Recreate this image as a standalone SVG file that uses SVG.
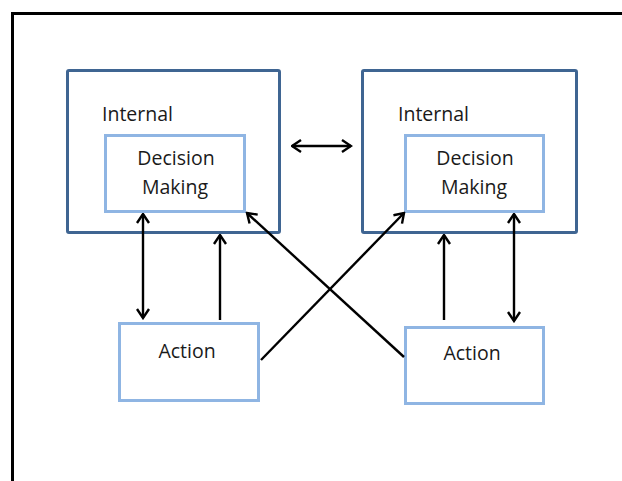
<svg xmlns="http://www.w3.org/2000/svg" width="622" height="481" viewBox="0 0 622 481">
<defs>
<marker id="ah" viewBox="0 0 12 14" refX="10.5" refY="7" markerWidth="12" markerHeight="14" markerUnits="userSpaceOnUse" orient="auto-start-reverse">
<path d="M1.5,1 L10.5,7 L1.5,13" fill="none" stroke="#000" stroke-width="2.4"/>
</marker>
</defs>
<style>
.outer{fill:#fff;stroke:#3f6592;stroke-width:3}
.inner{fill:#fff;stroke:#8fb5e3;stroke-width:3}
.t{font-family:"Open Sans","DejaVu Sans",sans-serif;font-size:19.5px;fill:#1a1a1a}
.c{stroke:#000;stroke-width:2.4;fill:none}
</style>
<rect width="622" height="481" fill="#fff"/>
<g id="frame">
<path d="M12.5,481 V13.5 H622" fill="none" stroke="#000" stroke-width="3"/>
</g>
<g id="internal-left">
<rect class="outer" x="67.5" y="70.5" width="212" height="162" rx="1.5"/>
<text class="t" x="102" y="121">Internal</text>
</g>
<g id="decision-left">
<rect class="inner" x="105.5" y="135.5" width="139" height="76"/>
<text class="t" x="176" y="165" text-anchor="middle">Decision</text>
<text class="t" x="175" y="194" text-anchor="middle">Making</text>
</g>
<g id="internal-right">
<rect class="outer" x="362.5" y="70.5" width="214" height="162" rx="1.5"/>
<text class="t" x="398" y="121">Internal</text>
</g>
<g id="decision-right">
<rect class="inner" x="405.5" y="135.5" width="138" height="76"/>
<text class="t" x="475" y="165" text-anchor="middle">Decision</text>
<text class="t" x="474" y="194" text-anchor="middle">Making</text>
</g>
<g id="action-left">
<rect class="inner" x="119.5" y="323.5" width="139" height="77"/>
<text class="t" x="187" y="358" text-anchor="middle">Action</text>
</g>
<g id="action-right">
<rect class="inner" x="405.5" y="327.5" width="138" height="76"/>
<text class="t" x="472" y="360" text-anchor="middle">Action</text>
</g>
<g id="connectors">
<line class="c" x1="292" y1="146" x2="351" y2="146" marker-start="url(#ah)" marker-end="url(#ah)"/>
<line class="c" x1="143" y1="214" x2="143" y2="318" marker-start="url(#ah)" marker-end="url(#ah)"/>
<line class="c" x1="220" y1="320" x2="220" y2="235" marker-end="url(#ah)"/>
<line class="c" x1="261" y1="360" x2="404" y2="213" marker-end="url(#ah)"/>
<line class="c" x1="404" y1="357" x2="247" y2="213" marker-end="url(#ah)"/>
<line class="c" x1="444" y1="320" x2="444" y2="235" marker-end="url(#ah)"/>
<line class="c" x1="514" y1="214" x2="514" y2="321" marker-start="url(#ah)" marker-end="url(#ah)"/>
</g>
</svg>
